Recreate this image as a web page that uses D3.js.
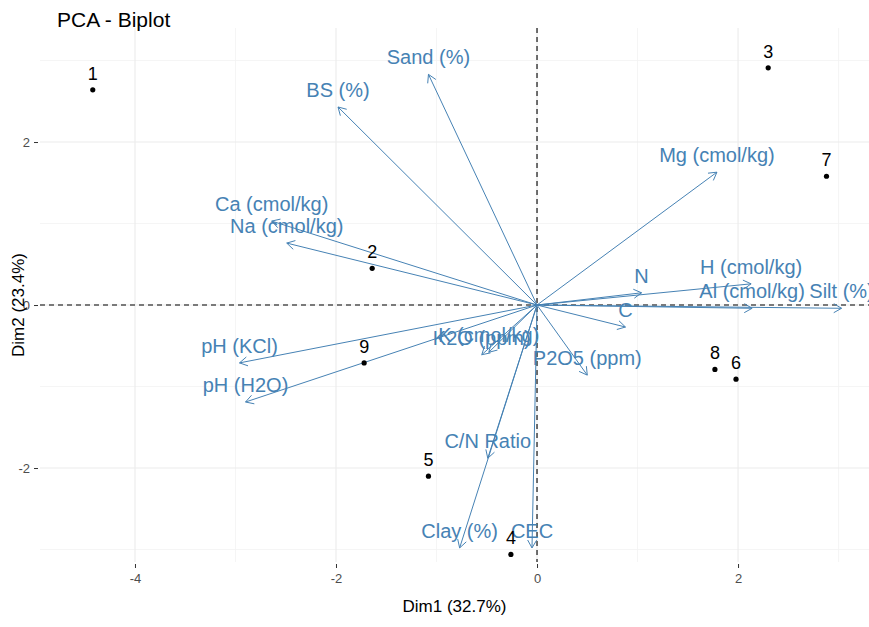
<!DOCTYPE html>
<html>
<head>
<meta charset="utf-8">
<script src="https://cdn.jsdelivr.net/npm/d3@7"></script>
<style>
  html, body { margin: 0; padding: 0; background: #fff; }
  svg { display: block; font-family: "Liberation Sans", Arial, sans-serif; }
</style>
</head>
<body>
<svg id="chart" width="869" height="627"></svg>
<script>
// Individuals (sample scores on the first two principal components)
const indLabels = ["1", "2", "3", "4", "5", "6", "7", "8", "9"];
const indDim1 = [-4.42, -1.64, 2.30, -0.26, -1.08, 1.98, 2.88, 1.77, -1.72];
const indDim2 = [2.64, 0.45, 2.91, -3.06, -2.10, -0.91, 1.58, -0.79, -0.71];

// Variables (loadings, scaled for the biplot)
const varLabels = ["Sand (%)", "BS (%)", "Mg (cmol/kg)", "Ca (cmol/kg)", "Na (cmol/kg)",
  "pH (KCl)", "pH (H2O)", "K2O (ppm)", "K (cmol/kg)", "P2O5 (ppm)", "C", "N",
  "H (cmol/kg)", "Al (cmol/kg)", "Silt (%)", "C/N Ratio", "Clay (%)", "CEC"];
const varDim1 = [-1.08, -1.98, 1.79, -2.64, -2.49, -2.96, -2.90, -0.55, -0.48, 0.50, 0.88, 1.04,
  2.13, 2.14, 3.03, -0.49, -0.77, -0.05];
const varDim2 = [2.83, 2.43, 1.63, 1.03, 0.76, -0.71, -1.19, -0.61, -0.58, -0.86, -0.27, 0.15,
  0.26, -0.04, -0.04, -1.88, -2.98, -2.98];

// Axis ticks
const xTicks = [-4, -2, 0, 2];
const yTicks = [-2, 0, 2];
const xMinor = [-3, -1, 1, 3];
const yMinor = [-3, -1, 1, 3];

const svg = d3.select("#chart");
const panel = { left: 40, right: 869, top: 28, bottom: 562 };

const x = d3.scaleLinear().domain([-4.945, 3.303]).range([panel.left, panel.right]);
const y = d3.scaleLinear().domain([-3.153, 3.399]).range([panel.bottom, panel.top]);

const varColor = "#4682B4";

// Grid
const grid = svg.append("g");
grid.selectAll(".vminor").data(xMinor).join("line")
  .attr("x1", d => x(d)).attr("x2", d => x(d))
  .attr("y1", panel.top).attr("y2", panel.bottom)
  .attr("stroke", "#F2F2F2").attr("stroke-width", 0.8);
grid.selectAll(".hminor").data(yMinor).join("line")
  .attr("y1", d => y(d)).attr("y2", d => y(d))
  .attr("x1", panel.left).attr("x2", panel.right)
  .attr("stroke", "#F2F2F2").attr("stroke-width", 0.8);
grid.selectAll(".vmajor").data(xTicks).join("line")
  .attr("x1", d => x(d)).attr("x2", d => x(d))
  .attr("y1", panel.top).attr("y2", panel.bottom)
  .attr("stroke", "#EBEBEB").attr("stroke-width", 1.1);
grid.selectAll(".hmajor").data(yTicks).join("line")
  .attr("y1", d => y(d)).attr("y2", d => y(d))
  .attr("x1", panel.left).attr("x2", panel.right)
  .attr("stroke", "#EBEBEB").attr("stroke-width", 1.1);

// Axes
const xAxis = d3.axisBottom(x).tickValues(xTicks).tickSize(4).tickPadding(6)
  .tickFormat(d => d < 0 ? "-" + Math.abs(d) : String(d));
const yAxis = d3.axisLeft(y).tickValues(yTicks).tickSize(4).tickPadding(4)
  .tickFormat(d => d < 0 ? "-" + Math.abs(d) : String(d));

const gx = svg.append("g").attr("transform", `translate(0,${panel.bottom + 2})`).call(xAxis);
const gy = svg.append("g").attr("transform", `translate(${panel.left - 2},0)`).call(yAxis);
[gx, gy].forEach(g => {
  g.select(".domain").remove();
  g.selectAll(".tick line").attr("stroke", "#333").attr("stroke-width", 1);
  g.selectAll(".tick text").attr("fill", "#4D4D4D").style("font-size", "13px")
    .style("font-family", "'Liberation Sans', Arial, sans-serif");
});

// Reference lines through the origin
svg.append("line")
  .attr("x1", panel.left).attr("x2", panel.right)
  .attr("y1", y(0)).attr("y2", y(0))
  .attr("stroke", "#000").attr("stroke-width", 1.1).attr("stroke-dasharray", "5,4");
svg.append("line")
  .attr("x1", x(0)).attr("x2", x(0))
  .attr("y1", panel.top).attr("y2", panel.bottom)
  .attr("stroke", "#000").attr("stroke-width", 1.1).attr("stroke-dasharray", "5,4");

// Variable arrows with open heads
const vars = varLabels.map((name, i) => ({ name, d1: varDim1[i], d2: varDim2[i] }));
const headLen = 9, headAng = Math.PI / 6;
const arrows = svg.append("g").attr("stroke", varColor).attr("fill", "none")
  .attr("stroke-width", 1);
vars.forEach(v => {
  const x0 = x(0), y0 = y(0), x1 = x(v.d1), y1 = y(v.d2);
  arrows.append("line").attr("x1", x0).attr("y1", y0).attr("x2", x1).attr("y2", y1);
  const a = Math.atan2(y1 - y0, x1 - x0);
  const p1 = [x1 - headLen * Math.cos(a - headAng), y1 - headLen * Math.sin(a - headAng)];
  const p2 = [x1 - headLen * Math.cos(a + headAng), y1 - headLen * Math.sin(a + headAng)];
  arrows.append("path").attr("d", `M${p1[0]},${p1[1]}L${x1},${y1}L${p2[0]},${p2[1]}`);
});

svg.append("g").selectAll("text").data(vars).join("text")
  .attr("x", d => x(d.d1)).attr("y", d => y(d.d2) - 10)
  .attr("text-anchor", "middle").attr("fill", varColor)
  .style("font-size", "20px")
  .text(d => d.name);

// Individuals
const inds = indLabels.map((name, i) => ({ name, d1: indDim1[i], d2: indDim2[i] }));
svg.append("g").selectAll("circle").data(inds).join("circle")
  .attr("cx", d => x(d.d1)).attr("cy", d => y(d.d2)).attr("r", 2.6).attr("fill", "#000");
svg.append("g").selectAll("text").data(inds).join("text")
  .attr("x", d => x(d.d1)).attr("y", d => y(d.d2) - 10)
  .attr("text-anchor", "middle").attr("fill", "#000")
  .style("font-size", "18px")
  .text(d => d.name);

// Titles
svg.append("text").attr("x", 57).attr("y", 27).attr("fill", "#000")
  .style("font-size", "21px").text("PCA - Biplot");
svg.append("text").attr("x", (panel.left + panel.right) / 2).attr("y", 612)
  .attr("text-anchor", "middle").attr("fill", "#000").style("font-size", "17px")
  .text("Dim1 (32.7%)");
svg.append("text")
  .attr("transform", `translate(24,${(panel.top + panel.bottom) / 2 + 10}) rotate(-90)`)
  .attr("text-anchor", "middle").attr("fill", "#000").style("font-size", "17px")
  .text("Dim2 (23.4%)");
</script>
</body>
</html>
